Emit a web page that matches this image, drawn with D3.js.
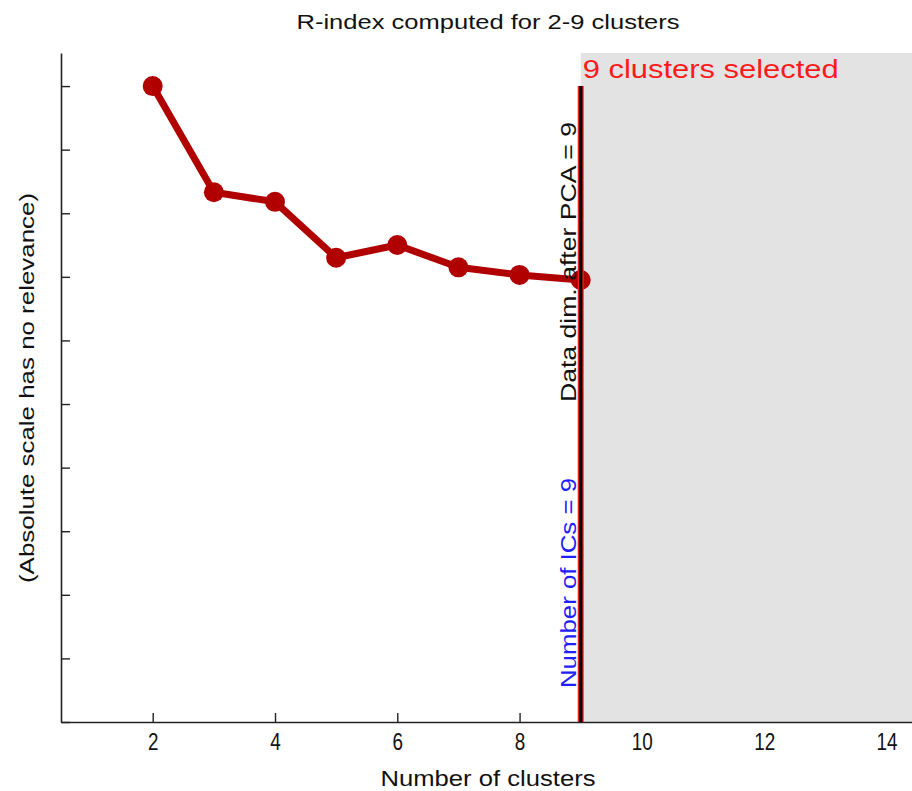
<!DOCTYPE html>
<html>
<head>
<meta charset="utf-8">
<script src="https://cdn.jsdelivr.net/npm/d3@7"></script>
<style>
  html, body { margin: 0; padding: 0; background: #fff; }
  svg { display: block; font-family: "Liberation Sans", Arial, sans-serif; }
  .xaxis .tick text { font-size: 23px; font-family: "Liberation Sans", Arial, sans-serif; fill: #111; }
</style>
</head>
<body>
<svg id="chart" width="912" height="791"></svg>
<script>
// R-index per number of clusters (arbitrary units)
const clusters = [2, 3, 4, 5, 6, 7, 8, 9];
const rIndex = [10.0, 8.33, 8.18, 7.30, 7.50, 7.15, 7.03, 6.95];
const xTicks = [2, 4, 6, 8, 10, 12, 14];
const yTicks = [0, 1, 2, 3, 4, 5, 6, 7, 8, 9, 10];
const selected = 9;      // chosen number of clusters
const pcaDim = 9;        // data dimension after PCA
const nICs = 9;          // number of ICs

const svg = d3.select("#chart");
const plotLeft = 61, plotRight = 917, plotTop = 53, plotBottom = 722;

const x = d3.scaleLinear().domain([0.5, 14.5]).range([plotLeft, plotRight]);
const y = d3.scaleLinear().domain([0, 10.52]).range([plotBottom, plotTop]);

// title
svg.append("text")
  .attr("x", 488).attr("y", 29)
  .attr("text-anchor", "middle")
  .attr("font-size", 21)
  .attr("textLength", 383).attr("lengthAdjust", "spacingAndGlyphs")
  .attr("fill", "#111")
  .text("R-index computed for 2-9 clusters");

// shaded region beyond the selected number of clusters
svg.append("rect")
  .attr("x", x(selected)).attr("y", plotTop)
  .attr("width", 912 - x(selected)).attr("height", plotBottom - plotTop)
  .attr("fill", "#e3e3e3");

// axes (ticks pointing inward)
const axisColor = "#222";
const gx = svg.append("g").attr("class", "xaxis").attr("transform", `translate(0,${plotBottom})`)
  .call(d3.axisBottom(x).tickValues(xTicks).tickSizeInner(-9).tickSizeOuter(0).tickPadding(12));
const gy = svg.append("g").attr("transform", `translate(${plotLeft},0)`)
  .call(d3.axisLeft(y).tickValues(yTicks).tickSizeInner(-9).tickSizeOuter(0).tickFormat(""));
[gx, gy].forEach(g => {
  g.select(".domain").attr("stroke", axisColor).attr("stroke-width", 1.6);
  g.selectAll(".tick line").attr("stroke", axisColor).attr("stroke-width", 1.4);
});
// tick marks inside the shaded region are hidden by it
gx.selectAll(".tick line").filter(d => d > selected).remove();
gx.selectAll(".tick text")
  .each(function(d) {
    d3.select(this).attr("textLength", String(d).length * 10.5).attr("lengthAdjust", "spacingAndGlyphs");
  });

// axis labels
svg.append("text")
  .attr("x", 488).attr("y", 786)
  .attr("text-anchor", "middle")
  .attr("font-size", 22)
  .attr("textLength", 215).attr("lengthAdjust", "spacingAndGlyphs")
  .attr("fill", "#111")
  .text("Number of clusters");

svg.append("text")
  .attr("transform", `translate(34,388) rotate(-90)`)
  .attr("text-anchor", "middle")
  .attr("font-size", 21)
  .attr("textLength", 390).attr("lengthAdjust", "spacingAndGlyphs")
  .attr("fill", "#111")
  .text("(Absolute scale has no relevance)");

svg.append("text")
  .attr("x", x(selected) + 2).attr("y", 78)
  .attr("font-size", 26)
  .attr("textLength", 256).attr("lengthAdjust", "spacingAndGlyphs")
  .attr("fill", "#ff1a1a")
  .text(`${selected} clusters selected`);

// R-index curve
const pts = clusters.map((c, i) => [c, rIndex[i]]);
const lineColor = "#b00000";
svg.append("path")
  .datum(pts)
  .attr("d", d3.line().x(d => x(d[0])).y(d => y(d[1])))
  .attr("fill", "none")
  .attr("stroke", lineColor)
  .attr("stroke-width", 7)
  .attr("stroke-linejoin", "round");
svg.selectAll("circle.pt")
  .data(pts)
  .join("circle")
  .attr("class", "pt")
  .attr("cx", d => x(d[0])).attr("cy", d => y(d[1]))
  .attr("r", 10)
  .attr("fill", lineColor);

// selection marker line
svg.append("line")
  .attr("x1", x(selected)).attr("x2", x(selected))
  .attr("y1", y(10)).attr("y2", plotBottom)
  .attr("stroke", "#ff2020").attr("stroke-width", 6);
svg.append("line")
  .attr("x1", x(selected)).attr("x2", x(selected))
  .attr("y1", y(10)).attr("y2", plotBottom)
  .attr("stroke", "#000").attr("stroke-width", 3.5);

// vertical annotations
svg.append("text")
  .attr("transform", `translate(576,402) rotate(-90)`)
  .attr("font-size", 22)
  .attr("textLength", 280).attr("lengthAdjust", "spacingAndGlyphs")
  .attr("fill", "#111")
  .text(`Data dim. after PCA = ${pcaDim}`);
svg.append("text")
  .attr("transform", `translate(576,688) rotate(-90)`)
  .attr("font-size", 22)
  .attr("textLength", 210).attr("lengthAdjust", "spacingAndGlyphs")
  .attr("fill", "#2020ff")
  .text(`Number of ICs = ${nICs}`);
</script>
</body>
</html>
